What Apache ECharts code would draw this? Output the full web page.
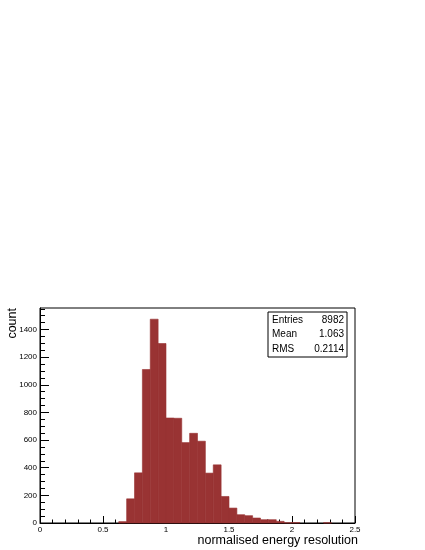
<!DOCTYPE html>
<html>
<head>
<meta charset="utf-8">
<script src="https://cdn.jsdelivr.net/npm/echarts@6/dist/echarts.min.js"></script>
<style>html,body{margin:0;padding:0;background:#fff;}#c{width:425px;height:550px;}</style>
</head>
<body>
<div id="c"></div>
<script>
// Histogram: bin low edges and counts
const BIN_W = 0.0625;
const binLows = [0.625, 0.6875, 0.75, 0.8125, 0.875, 0.9375, 1.0, 1.0625, 1.125, 1.1875,
                 1.25, 1.3125, 1.375, 1.4375, 1.5, 1.5625, 1.625, 1.6875, 1.75, 1.8125,
                 1.875, 1.9375, 2.0, 2.25];
const counts  = [10, 175, 363, 1111, 1475, 1299, 760, 758, 582, 649,
                 592, 361, 421, 192, 108, 60, 53, 36, 24, 24,
                 12, 2, 3, 2];
const xTicks = [0, 0.5, 1, 1.5, 2, 2.5];
const yMajorTicks = [0, 200, 400, 600, 800, 1000, 1200, 1400];
const yMinorTicks = [];
for (let v = 50; v < 1560; v += 50) if (v % 200 !== 0) yMinorTicks.push(v);
const statNames = ['Entries', 'Mean', 'RMS'];
const statValues = ['8982', '1.063', '0.2114'];
const xTitle = 'normalised energy resolution';
const yTitle = 'count';

const chart = echarts.init(document.getElementById('c'), null, {renderer: 'canvas'});
const FONT = 'Liberation Sans, Arial, sans-serif';
const Y_MAX = 1556;

const statText = [];
statNames.forEach((n, i) => {
  statText.push({type: 'text', x: 272, y: 320 + i * 14.7,
    style: {text: n, font: '10px ' + FONT, fill: '#000', textVerticalAlign: 'middle'}});
  statText.push({type: 'text', x: 344, y: 320 + i * 14.7,
    style: {text: statValues[i], font: '10px ' + FONT, fill: '#000', textAlign: 'right', textVerticalAlign: 'middle'}});
});

chart.setOption({
  animation: false,
  backgroundColor: '#fff',
  grid: {left: 40, right: 70, top: 308, bottom: 27, show: true, borderColor: '#000', borderWidth: 1},
  xAxis: {
    type: 'value', min: 0, max: 2.5, interval: 0.5,
    axisLine: {lineStyle: {color: '#000', width: 1}},
    axisTick: {inside: true, length: 7, lineStyle: {color: '#000'}},
    minorTick: {show: true, splitNumber: 5, length: 3.5, lineStyle: {color: '#000'}},
    axisLabel: {fontSize: 8, color: '#000', fontFamily: FONT, margin: 3,
      customValues: xTicks, formatter: v => String(v)},
    splitLine: {show: false}
  },
  yAxis: [{
    type: 'value', min: 0, max: Y_MAX,
    axisLine: {show: true, lineStyle: {color: '#000', width: 1}},
    axisTick: {show: true, inside: true, length: 9, customValues: yMajorTicks, lineStyle: {color: '#000'}},
    axisLabel: {fontSize: 8, color: '#000', fontFamily: FONT, margin: 3, customValues: yMajorTicks,
      formatter: v => String(v)},
    splitLine: {show: false}
  }, {
    type: 'value', min: 0, max: Y_MAX, position: 'left',
    axisLine: {show: false},
    axisTick: {show: true, inside: true, length: 5, customValues: yMinorTicks, lineStyle: {color: '#000'}},
    axisLabel: {show: false},
    splitLine: {show: false}
  }],
  series: [{
    type: 'custom',
    xAxisIndex: 0, yAxisIndex: 0,
    data: binLows.map((b, i) => [b, counts[i]]),
    encode: {x: 0, y: 1},
    renderItem: function (params, api) {
      const x0 = api.value(0), y = api.value(1);
      const p0 = api.coord([x0, y]);
      const p1 = api.coord([x0 + BIN_W, 0]);
      return {type: 'rect',
        shape: {x: p0[0], y: p0[1], width: p1[0] - p0[0], height: p1[1] - p0[1]},
        style: {fill: '#993333', stroke: '#993333', lineWidth: 0.6}};
    }
  }],
  graphic: [
    {type: 'text', x: 358, y: 541,
      style: {text: xTitle, font: '12.5px ' + FONT, fill: '#000', textAlign: 'right', textVerticalAlign: 'middle'}},
    {type: 'text', x: 13, y: 308, rotation: Math.PI / 2,
      style: {text: yTitle, font: '12.5px ' + FONT, fill: '#000', textAlign: 'right', textVerticalAlign: 'middle'}},
    {type: 'rect', z: 10, shape: {x: 268, y: 312, width: 79, height: 45},
      style: {fill: '#fff', stroke: '#000', lineWidth: 1}},
    ...statText.map(t => Object.assign(t, {z: 11}))
  ]
});
</script>
</body>
</html>
